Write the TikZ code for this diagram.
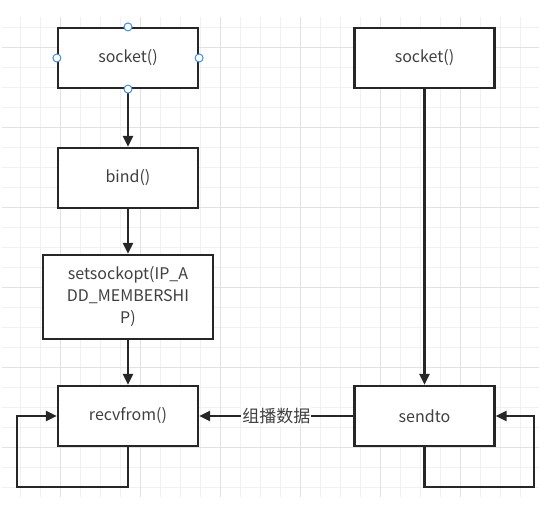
\documentclass[tikz,border=0pt]{standalone}
\usepackage{fontspec}
\setmainfont{Noto Sans CJK SC}
\usetikzlibrary{arrows.meta}
\definecolor{gridminor}{HTML}{F0F0F0}
\definecolor{gridmajor}{HTML}{E2E2E2}
\definecolor{handleblue}{HTML}{3D8FE0}

\begin{document}
\begin{tikzpicture}[x=1pt, y=-1pt,
	every node/.style={font=\fontsize{16}{22}\selectfont, text=black!75},
	box/.style={draw=black!85, line width=2.2pt, fill=white, minimum width=140pt, minimum height=60pt, inner sep=0pt},
	flow/.style={draw=black!85, line width=2.2pt, -{Triangle[length=11pt,width=10pt]}},
	handle/.style={circle, draw=handleblue, fill=white, line width=1pt, minimum size=8pt, inner sep=0pt}]
	\useasboundingbox (0,0) rectangle (552,507);
	% background grid
	\foreach \x in {20,40,...,520} \draw[gridminor, line width=0.8pt] (\x,17) -- (\x,497);
	\foreach \y in {27,47,...,487} \draw[gridminor, line width=0.8pt] (2,\y) -- (539,\y);
	\foreach \x in {60,140,...,460} \draw[gridmajor, line width=0.9pt] (\x,17) -- (\x,497);
	\foreach \y in {47,127,...,447} \draw[gridmajor, line width=0.9pt] (2,\y) -- (539,\y);
	% receiver side
	\node[box] (sockL) at (128,58) {socket()};
	\node[box] (bind) at (128,178) {bind()};
	\node[box, minimum width=170pt, minimum height=84pt, align=center] (setopt) at (128,297) {setsockopt(IP\_A\\DD\_MEMBERSHI\\P)};
	\node[box] (recv) at (128,416) {recvfrom()};
	% sender side
	\node[box] (sockR) at (424.5,58) {socket()};
	\node[box] (send) at (424.5,416) {sendto};
	\draw[flow] (sockL) -- (bind);
	\draw[flow] (bind) -- (setopt);
	\draw[flow] (setopt) -- (recv);
	\draw[flow] (sockR) -- (send);
	\draw[flow] (send) -- node[fill=white, inner sep=1pt, font=\fontsize{17}{20}\selectfont] (data) {组播数据} (recv);
	\draw[flow] (recv.south) -- ++(0,40) -| ([xshift=-40pt]recv.west) -- (recv.west);
	\draw[flow] (send.south) -- ++(0,40) -| ([xshift=38pt]send.east) -- (send.east);
	% selection handles
	\foreach \a in {north,south,east,west}
		\node[handle] (h\a) at (sockL.\a) {};
\end{tikzpicture}
\end{document}
